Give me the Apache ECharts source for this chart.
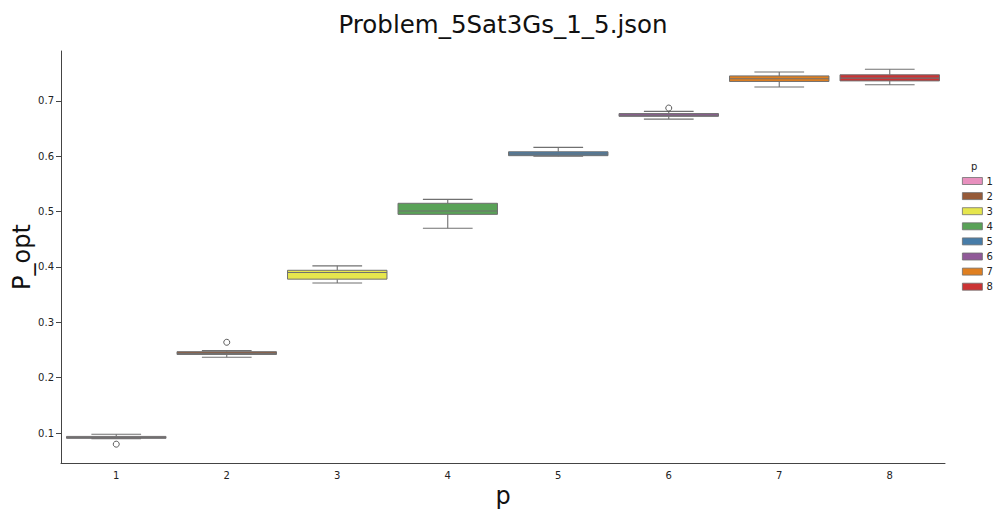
<!DOCTYPE html>
<html>
<head>
<meta charset="utf-8">
<script src="https://cdn.jsdelivr.net/npm/echarts@6/dist/echarts.min.js"></script>
<style>
  html, body { margin: 0; padding: 0; background: #fff; }
  #chart { width: 995px; height: 510px; }
</style>
</head>
<body>
<div id="chart"></div>
<script>
// ---- data ----
const categories = ['1', '2', '3', '4', '5', '6', '7', '8'];
const lowWhisker  = [0.090, 0.237, 0.371, 0.470, 0.600, 0.667, 0.725, 0.729];
const q1Values    = [0.0905, 0.242, 0.378, 0.495, 0.601, 0.672, 0.735, 0.736];
const medianVals  = [0.092, 0.244, 0.390, 0.501, 0.604, 0.674, 0.740, 0.741];
const q3Values    = [0.094, 0.247, 0.394, 0.515, 0.608, 0.677, 0.745, 0.747];
const highWhisker = [0.098, 0.249, 0.402, 0.522, 0.616, 0.681, 0.752, 0.757];
const outlierCats = [0, 1, 5];
const outlierVals = [0.080, 0.264, 0.687];
const yTickValues = [0.1, 0.2, 0.3, 0.4, 0.5, 0.6, 0.7];

// ---- styles ----
const palette = ['#e890be', '#965a38', '#e6e64d', '#59a257', '#477ca8', '#905998', '#df7f20', '#cb3334'];
const lineCol = '#707070';
const FONT = 'DejaVu Sans';

const chart = echarts.init(document.getElementById('chart'), null, { renderer: 'svg' });

function renderBox(params, api) {
  const idx = api.value(0);
  const pLow = api.coord([idx, api.value(1)]);
  const pQ1 = api.coord([idx, api.value(2)]);
  const pMed = api.coord([idx, api.value(3)]);
  const pQ3 = api.coord([idx, api.value(4)]);
  const pHigh = api.coord([idx, api.value(5)]);
  const band = api.size([1, 0])[0];
  const half = band * 0.9 / 2;
  const capHalf = half / 2;
  const x = pLow[0];
  const fill = api.visual('color');
  const lineStyle = { stroke: lineCol, lineWidth: 1.1 };
  return {
    type: 'group',
    children: [
      { type: 'line', shape: { x1: x, y1: pQ3[1], x2: x, y2: pHigh[1] }, style: lineStyle },
      { type: 'line', shape: { x1: x, y1: pQ1[1], x2: x, y2: pLow[1] }, style: lineStyle },
      { type: 'line', shape: { x1: x - capHalf, y1: pHigh[1], x2: x + capHalf, y2: pHigh[1] }, style: lineStyle },
      { type: 'line', shape: { x1: x - capHalf, y1: pLow[1], x2: x + capHalf, y2: pLow[1] }, style: lineStyle },
      { type: 'rect', shape: { x: x - half, y: pQ3[1], width: half * 2, height: pQ1[1] - pQ3[1] },
        style: { fill: fill, stroke: lineCol, lineWidth: 1 } },
      { type: 'line', shape: { x1: x - half, y1: pMed[1], x2: x + half, y2: pMed[1] }, style: { stroke: lineCol, lineWidth: 1.1 } }
    ]
  };
}

const boxSeries = categories.map((c, i) => ({
  name: c,
  type: 'custom',
  renderItem: renderBox,
  itemStyle: { color: palette[i] },
  encode: { x: 0, y: [1, 2, 3, 4, 5] },
  data: [[i, lowWhisker[i], q1Values[i], medianVals[i], q3Values[i], highWhisker[i]]],
  z: 2
}));

const outlierSeries = {
  name: 'outliers',
  type: 'scatter',
  symbol: 'circle',
  symbolSize: 6,
  itemStyle: { color: '#ffffff', borderColor: '#333333', borderWidth: 1 },
  data: outlierCats.map((c, i) => [c, outlierVals[i]]),
  z: 3
};

const option = {
  animation: false,
  backgroundColor: '#ffffff',
  textStyle: { fontFamily: FONT },
  title: {
    text: 'Problem_5Sat3Gs_1_5.json',
    left: 498, top: 7, textAlign: 'center',
    textStyle: { fontFamily: FONT, fontSize: 24.5, fontWeight: 'normal', color: '#111' }
  },
  legend: {
    data: categories,
    orient: 'vertical',
    left: 957, top: 171,
    itemWidth: 20, itemHeight: 7, itemGap: 5.1,
    icon: 'rect',
    itemStyle: { borderColor: '#707070', borderWidth: 0.8 },
    textStyle: { fontFamily: FONT, fontSize: 10, color: '#222', padding: [0, 0, 0, -1] }
  },
  graphic: [{
    type: 'text', left: 971, top: 161,
    style: { text: 'p', font: '10px "DejaVu Sans"', fill: '#222' }
  }],
  grid: { left: 61, right: 50, top: 51, bottom: 47, containLabel: false, outerBoundsMode: 'none' },
  xAxis: {
    type: 'category',
    data: categories,
    name: 'p',
    nameLocation: 'middle',
    nameGap: 21,
    nameMoveOverlap: false,
    nameTextStyle: { fontFamily: FONT, fontSize: 24, color: '#111' },
    axisLine: { lineStyle: { color: '#444', width: 1 } },
    axisTick: { alignWithLabel: true, length: 5, lineStyle: { color: '#444' } },
    axisLabel: { fontFamily: FONT, fontSize: 10, color: '#222', margin: 7 },
    splitLine: { show: false }
  },
  yAxis: {
    type: 'value',
    min: 0.046, max: 0.79,
    name: 'P_opt',
    nameLocation: 'middle',
    nameGap: 27,
    nameMoveOverlap: false,
    nameTextStyle: { fontFamily: FONT, fontSize: 24, color: '#111' },
    axisLine: { show: true, lineStyle: { color: '#444', width: 1 } },
    axisTick: { show: true, length: 5, lineStyle: { color: '#444' }, customValues: yTickValues },
    axisLabel: { fontFamily: FONT, fontSize: 10, color: '#222', margin: 7,
      customValues: yTickValues, formatter: v => Number(v).toFixed(1) },
    splitLine: { show: false }
  },
  series: boxSeries.concat([outlierSeries])
};

chart.setOption(option);
</script>
</body>
</html>
